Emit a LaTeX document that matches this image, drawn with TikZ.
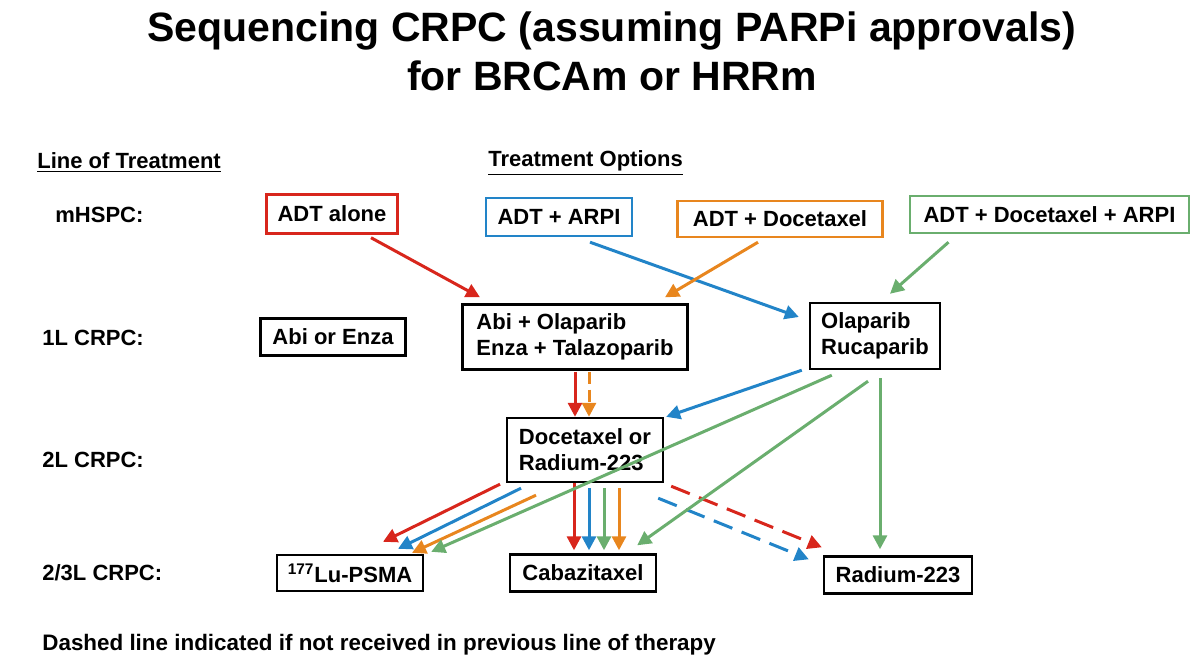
\documentclass[tikz,border=0pt]{standalone}
\usepackage{fontspec}
\setmainfont{Liberation Sans}
\usetikzlibrary{arrows.meta, calc}
\definecolor{seqRed}{HTML}{D8261C}
\definecolor{seqBlue}{HTML}{2284C8}
\definecolor{seqOrange}{HTML}{E8861E}
\definecolor{seqGreen}{HTML}{6AAE6E}

\begin{document}
\begin{tikzpicture}[x=0.5pt, y=-0.5pt,
        box/.style={draw=black, line width=1.2pt, align=left, inner sep=2pt,
                    font=\fontsize{11}{13}\selectfont\bfseries},
        lbl/.style={anchor=west, inner sep=0pt, font=\fontsize{11}{13}\selectfont\bfseries},
        arr/.style={line width=1.5pt, -{Triangle[length=7pt,width=7pt]}},
        skipped/.style={arr, dash pattern=on 10pt off 5pt}]
        \useasboundingbox (0,0) rectangle (1200,669);
        % title and column heads
        \node[align=center, font=\fontsize{20.5}{24.5}\selectfont\bfseries] (title) at (612,51)
              {Sequencing CRPC (assuming PARPi approvals)\\for BRCAm or HRRm};
        \node[lbl] (hLine) at (37,163) {\underline{Line of Treatment}};
        \node[lbl] (hOpt) at (488,163) {\underline{Treatment Options}};
        \node[lbl] (rMH) at (55,215) {mHSPC:};
        \node[lbl] (r1L) at (42,338) {1L CRPC:};
        \node[lbl] (r2L) at (42,460) {2L CRPC:};
        \node[lbl] (r3L) at (42,573) {2/3L CRPC:};
        % mHSPC row
        \node[box, draw=seqRed, minimum width=65.5pt, minimum height=19.5pt] (adt) at (332,214) {ADT alone};
        \node[box, draw=seqBlue, minimum width=73pt, minimum height=19pt] (arpi) at (559,217) {ADT + ARPI};
        \node[box, draw=seqOrange, minimum width=102.5pt, minimum height=18pt] (doce) at (780,219) {ADT + Docetaxel};
        \node[box, draw=seqGreen, minimum width=139.5pt, minimum height=18.5pt] (triple) at (1049.5,214.5) {ADT + Docetaxel + ARPI};
        % 1L
        \node[box, minimum width=72.5pt, minimum height=18.5pt] (abienza) at (333,337) {Abi or Enza};
        \node[box, minimum width=112.5pt, minimum height=32.5pt] (abiola) at (575,337) {Abi + Olaparib\\Enza + Talazoparib};
        \node[box, minimum width=65pt, minimum height=33pt] (olap) at (875,336) {Olaparib\\Rucaparib};
        % 2L
        \node[box, minimum width=78pt, minimum height=32pt] (docrad) at (585,450) {Docetaxel or\\Radium-223};
        % 2/3L
        \node[box, minimum width=73pt, minimum height=18pt] (lupsma) at (350,573) {\textsuperscript{177}Lu-PSMA};
        \node[box, minimum width=73pt, minimum height=18.5pt] (caba) at (583,573) {Cabazitaxel};
        \node[box, minimum width=74pt, minimum height=18.5pt] (radium) at (898,575) {Radium-223};
        \node[lbl, font=\fontsize{11.2}{13}\selectfont\bfseries] (note) at (42,645)
              {Dashed line indicated if not received in previous line of therapy};
        % mHSPC -> 1L
        \draw[arr, seqRed] ($(adt.south)+(39,3)$) -- ($(abiola.north)+(-95,-6)$);
        \draw[arr, seqBlue] ($(arpi.south)+(31,5)$) -- ($(olap.west)+(-10,-19)$);
        \draw[arr, seqOrange] ($(doce.south)+(-22,4)$) -- ($(abiola.north)+(90,-6)$);
        \draw[arr, seqGreen] ($(triple.south)+(-101,8)$) -- ($(olap.north)+(15,-8)$);
        % 1L -> 2L
        \draw[arr, seqRed] ($(abiola.south)+(0,1)$) -- ($(docrad.north)+(-10,0)$);
        \draw[skipped, seqOrange, dash pattern=on 6pt off 3pt] ($(abiola.south)+(14,1)$) -- ($(docrad.north)+(4,0)$);
        \draw[arr, seqBlue] ($(olap.south west)+(-7,0)$) -- ($(docrad.north east)+(2,0)$);
        % 2L -> 2/3L
        \draw[arr, seqRed] ($(docrad.south)+(-85,1)$) -- ($(lupsma.north)+(33,-12)$);
        \draw[arr, seqBlue] ($(docrad.south)+(-64,5)$) -- ($(lupsma.north)+(48,-5)$);
        \draw[arr, seqOrange] ($(docrad.south)+(-49,12)$) -- ($(lupsma.north)+(62,-1)$);
        \foreach \c/\s/\e/\d in {seqRed/-11/0/-9, seqBlue/4/5/6, seqGreen/19/5/21, seqOrange/34/5/36}
          \draw[arr, \c] ($(docrad.south)+(\s,\e)$) -- ($(caba.north)+(\d,-3)$);
        \draw[skipped, seqRed] ($(docrad.south east)+(7,3)$) -- ($(radium.north west)+(-1,-8)$);
        \draw[skipped, seqBlue] ($(docrad.south east)+(-6,15)$) -- ($(radium.north west)+(-14,4)$);
        % 1L -> 2/3L
        \draw[arr, seqGreen] ($(olap.south west)+(23,5)$) -- ($(lupsma.north east)+(7,-2)$);
        \draw[arr, seqGreen] ($(olap.south)+(-7,11)$) -- ($(caba.north east)+(-20,-8)$);
        \draw[arr, seqGreen] ($(olap.south)+(5,8)$) -- ($(radium.north)+(-18,-6)$);
\end{tikzpicture}
\end{document}
